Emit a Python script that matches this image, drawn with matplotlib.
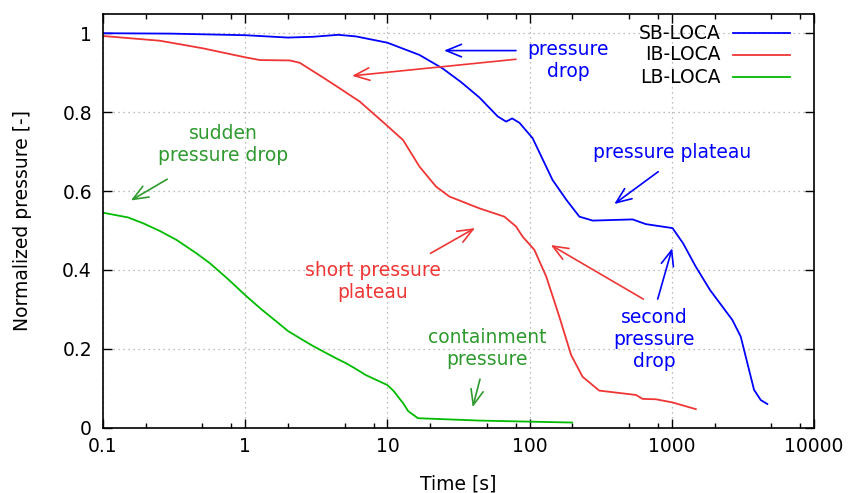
import matplotlib
matplotlib.use("Agg")
import matplotlib.pyplot as plt
from matplotlib.ticker import LogLocator, FuncFormatter, MultipleLocator, NullFormatter
from matplotlib.lines import Line2D

# SB-LOCA (blue)
t_sb = [0.1, 0.3, 1, 2, 3, 4.5, 6, 10, 16.8, 24.4, 33, 44.4, 59.7, 68.4, 75.4, 84.8,
        105, 145, 182, 224, 278, 530, 658, 1012, 1203, 1476, 1858, 2668, 3054,
        3789, 4225, 4700]
p_sb = [1.0, 0.999, 0.995, 0.989, 0.991, 0.996, 0.992, 0.976, 0.945, 0.911, 0.876, 0.837,
        0.789, 0.776, 0.784, 0.773, 0.734, 0.628, 0.577, 0.535, 0.525, 0.528, 0.516,
        0.506, 0.467, 0.408, 0.349, 0.273, 0.231, 0.096, 0.070, 0.060]

# IB-LOCA (red)
t_ib = [0.1, 0.251, 0.5, 1, 1.27, 2.06, 2.42, 3.52, 4.37, 6.38, 10, 12.9, 16.8, 22,
        27.3, 44.4, 66.5, 80.3, 89.5, 108, 131, 162, 196, 236, 309, 502, 560, 623,
        773, 1012, 1476]
p_ib = [0.993, 0.981, 0.962, 0.939, 0.932, 0.931, 0.925, 0.888, 0.866, 0.827, 0.765,
        0.729, 0.662, 0.611, 0.586, 0.556, 0.535, 0.510, 0.484, 0.451, 0.383, 0.281,
        0.184, 0.129, 0.094, 0.085, 0.083, 0.073, 0.072, 0.064, 0.047]

# LB-LOCA (green)
t_lb = [0.1, 0.15, 0.192, 0.25, 0.329, 0.45, 0.564, 0.75, 1, 1.3, 1.66, 2, 2.55, 3,
        3.72, 4.3, 5.14, 6, 7, 7.91, 10, 11, 12.9, 14, 16.4, 44.4, 199]
p_lb = [0.545, 0.533, 0.518, 0.499, 0.476, 0.443, 0.417, 0.378, 0.336, 0.300, 0.269,
        0.245, 0.222, 0.207, 0.189, 0.177, 0.163, 0.149, 0.134, 0.125, 0.108, 0.094,
        0.062, 0.042, 0.024, 0.018, 0.013]

blue = '#0000ff'
red = '#f03535'
green = '#00bb00'
green_txt = '#2e9a2e'

plt.rcParams['font.family'] = 'DejaVu Sans'
plt.rcParams['font.size'] = 13.5

fig = plt.figure(figsize=(8.5, 4.93), dpi=100)
ax = fig.add_axes([0.1212, 0.1325, 0.8364, 0.8401])

ax.plot(t_sb, p_sb, color=blue, lw=1.3)
ax.plot(t_ib, p_ib, color=red, lw=1.3)
ax.plot(t_lb, p_lb, color=green, lw=1.3)

ax.set_xscale('log')
ax.set_xlim(0.1, 10000)
ax.set_ylim(0, 1.05)
ax.xaxis.set_major_locator(LogLocator(base=10, numticks=10))
ax.xaxis.set_minor_locator(LogLocator(base=10, subs=(2, 5, 8), numticks=10))
ax.xaxis.set_minor_formatter(NullFormatter())
ax.xaxis.set_major_formatter(FuncFormatter(lambda v, p: '%g' % v))
ax.yaxis.set_major_locator(MultipleLocator(0.2))
ax.yaxis.set_major_formatter(FuncFormatter(lambda v, p: '%g' % round(v, 2)))

ax.tick_params(which='both', direction='in', top=True, right=True, width=1)
ax.tick_params(which='major', length=6.5, labelsize=13.5)
ax.tick_params(axis='x', which='major', pad=7)
ax.tick_params(axis='y', which='major', pad=8)
ax.tick_params(which='minor', length=3.5)
for s in ax.spines.values():
    s.set_linewidth(1.2)
ax.grid(True, which='major', color='#a8a8a8', linestyle=(0, (1, 3)), lw=0.9)

ax.set_xlabel('Time [s]', fontsize=13.5, labelpad=13)
ax.set_ylabel('Normalized pressure [-]', fontsize=13.5, labelpad=22)

# legend drawn by hand (labels right aligned, line on the right)
leg = [('SB-LOCA', blue, 0.952), ('IB-LOCA', red, 0.900), ('LB-LOCA', green, 0.846)]
for name, c, yy in leg:
    ax.text(0.869, yy, name, transform=ax.transAxes, ha='right', va='center', fontsize=13.5)
    ax.add_line(Line2D([0.886, 0.966], [yy, yy], transform=ax.transAxes, color=c, lw=1.3))

# annotation texts
ax.text(186, 0.930, 'pressure\ndrop', color=blue, ha='center', va='center')
ax.text(0.698, 0.719, 'sudden\npressure drop', color=green_txt, ha='center', va='center')
ax.text(1002, 0.697, 'pressure plateau', color=blue, ha='center', va='center')
ax.text(7.93, 0.371, 'short pressure\nplateau', color=red, ha='center', va='center')
ax.text(750, 0.224, 'second\npressure\ndrop', color=blue, ha='center', va='center')
ax.text(50.1, 0.201, 'containment\npressure', color=green_txt, ha='center', va='center')

# arrows: (tail, head, colour)
arrows = [
    ((80.2, 0.956), (25.0, 0.956), blue),
    ((80.2, 0.934), (5.64, 0.892), red),
    ((0.283, 0.630), (0.157, 0.576), green_txt),
    ((803, 0.649), (394, 0.567), blue),
    ((20.1, 0.442), (41.3, 0.506), red),
    ((631, 0.326), (141, 0.463), red),
    ((796, 0.326), (1007, 0.455), blue),
    ((44.8, 0.123), (39.8, 0.052), green_txt),
]
for tail, head, c in arrows:
    ax.annotate('', xy=head, xytext=tail,
                arrowprops=dict(arrowstyle='->,head_length=1.1,head_width=0.45',
                                color=c, lw=1.2, mutation_scale=10,
                                shrinkA=0, shrinkB=0))

fig.savefig('out.png', dpi=100)
